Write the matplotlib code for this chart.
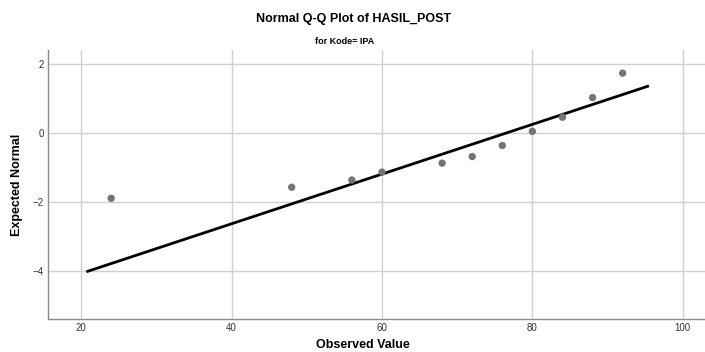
import matplotlib
matplotlib.use("Agg")
import matplotlib.pyplot as plt

observed = [24, 48, 56, 60, 68, 72, 76, 80, 84, 88, 92]
expected = [-1.89, -1.57, -1.36, -1.13, -0.87, -0.68, -0.36, 0.05, 0.46, 1.03, 1.74]
line_x = [20.7, 95.5]
line_y = [-4.02, 1.37]
xticks = [20, 40, 60, 80, 100]
yticks = [2, 0, -2, -4]

plt.rcParams['font.family'] = ['Liberation Sans', 'DejaVu Sans']

fig = plt.figure(figsize=(7.05, 3.52), dpi=100)
ax = fig.add_axes([48/705, 1-319/352, (705-48)/705, (319-50)/352])

ax.set_xlim(15.6, 102.95)
ax.set_ylim(-5.39, 2.41)
ax.set_xticks(xticks)
ax.set_yticks(yticks)
ax.grid(True, color='#cfcfcf', linewidth=1)
ax.set_axisbelow(True)

ax.plot(line_x, line_y, color='black', linewidth=2, solid_capstyle='butt', zorder=3)
ax.scatter(observed, expected, s=28, color='#747474', edgecolors='none', zorder=4)

for s in ['top', 'right']:
    ax.spines[s].set_visible(False)
for s in ['left', 'bottom']:
    ax.spines[s].set_color('#8a8a8a')
    ax.spines[s].set_linewidth(1)

ax.tick_params(axis='both', length=0, labelsize=7, colors='#333333')
ax.tick_params(axis='x', pad=3)
ax.tick_params(axis='y', pad=3)

fig.text(363/705, 1-345/352, 'Observed Value', ha='center', va='center',
         fontsize=9, fontweight='bold')
fig.text(17/705, 1-185/352, 'Expected Normal', ha='center', va='center',
         rotation=90, fontsize=9, fontweight='bold')

fig.text(354/705, 1-19/352, 'Normal Q-Q Plot of HASIL_POST', ha='center', va='center',
         fontsize=9, fontweight='bold')
fig.text(345/705, 1-42/352, 'for Kode= IPA', ha='center', va='center',
         fontsize=6.5, fontweight='bold')

fig.savefig('out.png', dpi=100)
